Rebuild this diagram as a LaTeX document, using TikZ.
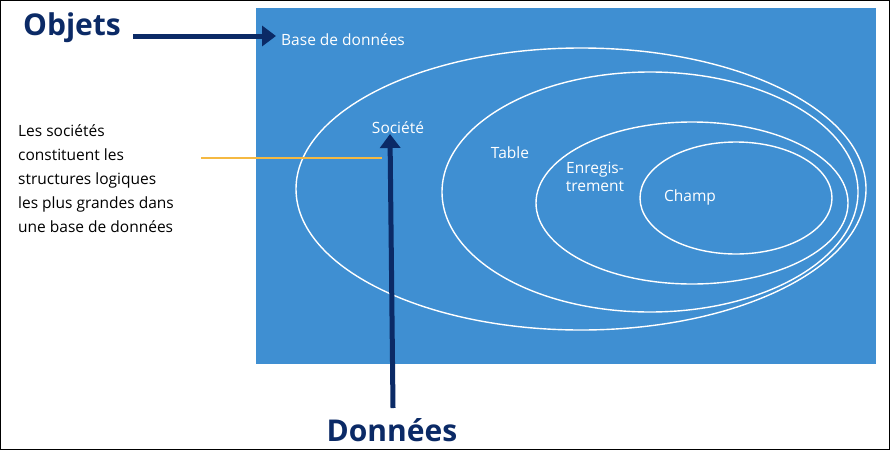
\documentclass[tikz,border=0pt]{standalone}
\usepackage{fontspec}
\setmainfont{Open Sans}
\usetikzlibrary{arrows.meta}
\definecolor{bluebg}{HTML}{3F8FD2}
\definecolor{navy}{HTML}{0B2A66}
\definecolor{orng}{HTML}{F5B942}
\begin{document}
\begin{tikzpicture}[x=1pt,y=-1pt,
  lbl/.style={text=white,font=\fontsize{15.5}{18}\selectfont,inner sep=0pt},
  ell/.style={draw=white,line width=1.4pt},
  big/.style={text=navy,font=\fontsize{30}{34}\selectfont\bfseries,inner sep=0pt},
  arr/.style={navy,line width=5pt,-{Triangle[length=14pt,width=20pt]}}]
\draw[black,line width=1pt,fill=white] (0.5,0.5) rectangle (889.5,449.5);
\fill[bluebg] (256,8) rectangle (876,364);
\draw[ell] (581,189) ellipse [x radius=285,y radius=141];
\draw[ell] (650,192) ellipse [x radius=208,y radius=120];
\draw[ell] (692,203) ellipse [x radius=156,y radius=81];
\draw[ell] (736,198) ellipse [x radius=96,y radius=56];
\node[lbl,anchor=west] (bd) at (281,40) {Base de données};
\node[lbl] (soc) at (398,128) {Société};
\node[lbl] (tab) at (510,153) {Table};
\node[lbl,align=center] (enr) at (595,177) {Enregis-\\trement};
\node[lbl] (ch) at (690,197) {Champ};
\node[big] (obj) at (72,28) {Objets};
\node[big] (don) at (392,430) {Données};
\coordinate (o1) at (133,36);
\coordinate (o2) at (276,36);
\coordinate (d1) at (393,408);
\coordinate (d2) at (390,134);
\draw[arr] (o1) -- (o2);
\draw[arr] (d1) -- (d2);
\node[anchor=north west,align=left,inner sep=0pt,font=\fontsize{15.5}{24}\selectfont] (txt) at (18,124)
 {Les sociétés\\constituent les\\structures logiques\\les plus grandes dans\\une base de données};
\coordinate (l1) at (201,158);
\coordinate (l2) at (382,158);
\draw[orng,line width=1.5pt] (l1) -- (l2);
\end{tikzpicture}
\end{document}
